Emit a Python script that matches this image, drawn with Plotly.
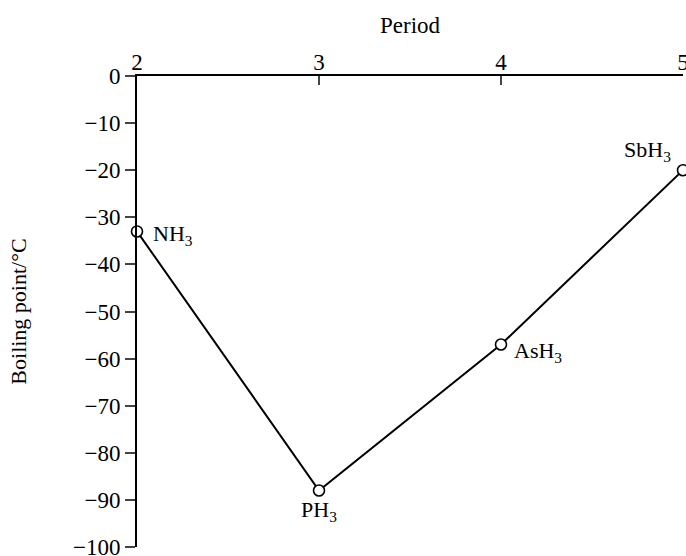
import plotly.graph_objects as go

periods = [2, 3, 4, 5]
boiling = [-33, -88, -57, -20]
names = ["NH<sub>3</sub>", "PH<sub>3</sub>", "AsH<sub>3</sub>", "SbH<sub>3</sub>"]
yticks = [0, -10, -20, -30, -40, -50, -60, -70, -80, -90, -100]

font = "Liberation Serif"

fig = go.Figure()
fig.add_trace(go.Scatter(
    x=periods, y=boiling, mode="lines+markers",
    line=dict(color="black", width=2),
    marker=dict(symbol="circle", size=11, color="white", line=dict(color="black", width=1.6)),
    cliponaxis=False, showlegend=False, hoverinfo="skip",
))

offsets = [(14, -4, "left", "middle"), (0, -5, "center", "top"), (11, -8, "left", "middle"), (-10, 3, "right", "bottom")]
for x, y, n, (ax, ay, xa, ya) in zip(periods, boiling, names, offsets):
    fig.add_annotation(x=x, y=y, text=n, showarrow=False, xshift=ax, yshift=ay,
                       xanchor=xa, yanchor=ya, font=dict(family=font, size=22, color="black"))

fig.update_layout(
    width=686, height=556,
    margin=dict(l=137, r=3, t=76, b=9),
    plot_bgcolor="white", paper_bgcolor="white",
    font=dict(family=font, size=22, color="black"),
    xaxis=dict(side="top", range=[2, 5], tickvals=periods, ticks="inside", ticklen=9,
               tickwidth=1.8, showline=True, linecolor="black", linewidth=2,
               showgrid=False, zeroline=False, ticklabeloverflow="allow", automargin=False,
               ticklabelstandoff=-5,
               title=dict(text="Period", standoff=10, font=dict(size=23)),
               tickfont=dict(size=23)),
    yaxis=dict(range=[-100, 0], tickvals=yticks, ticks="outside", ticklen=10,
               tickwidth=1.8, showline=True, linecolor="black", linewidth=2,
               showgrid=False, zeroline=False, ticklabeloverflow="allow", automargin=False,
               title=dict(text="Boiling point/°C", standoff=40, font=dict(size=22)),
               tickfont=dict(size=23)),
)
fig.write_html("out.html", config={"displayModeBar": False},
               post_script="document.body.style.margin='0';document.body.style.overflow='hidden';")
